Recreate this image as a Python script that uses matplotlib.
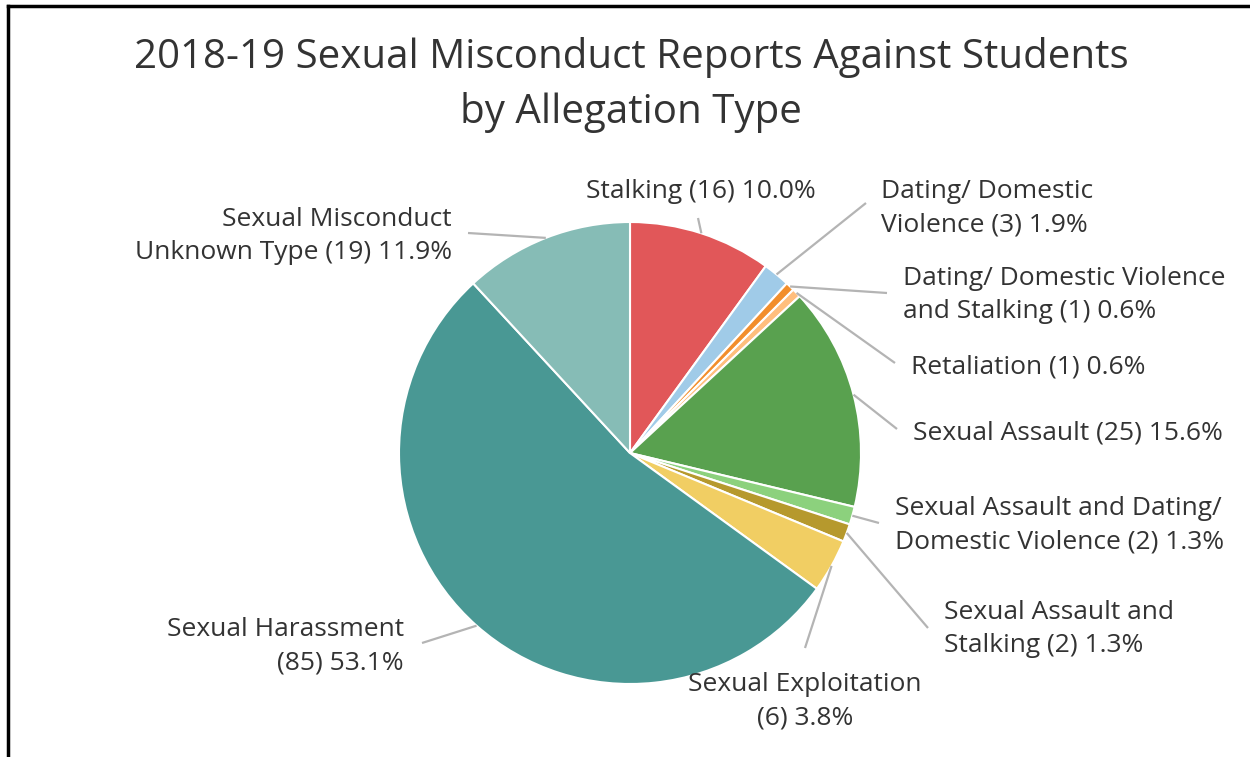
import numpy as np
import matplotlib.pyplot as plt

# allegation types, clockwise from 12 o'clock
categories = [
    "Stalking",
    "Dating/ Domestic\nViolence",
    "Dating/ Domestic Violence\nand Stalking",
    "Retaliation",
    "Sexual Assault",
    "Sexual Assault and Dating/\nDomestic Violence",
    "Sexual Assault and\nStalking",
    "Sexual Exploitation\n",
    "Sexual Harassment\n",
    "Sexual Misconduct\nUnknown Type",
]
counts = [16, 3, 1, 1, 25, 2, 2, 6, 85, 19]
colors = ["#e15759", "#a0cbe8", "#f28e2b", "#ffbe7d", "#59a14f",
          "#8cd17d", "#b6992d", "#f1ce63", "#499894", "#86bcb6"]

# label anchor (pixels from top-left) and alignment
label_pos = [(701, 191), (881, 208), (903, 295), (911, 367), (913, 433),
             (895, 525), (944, 629), (805, 701), (404, 646), (452, 236)]
label_ha = ["center", "left", "left", "left", "left",
            "left", "left", "center", "right", "right"]
line_end = [(698, 218), (866, 203), (887, 293), (895, 363), (897, 429),
            (879, 523), (928, 628), (805, 648), (422, 643), (468, 233)]

W, H = 1250, 757
cx, cy, r = 630, 453, 231
text_col = "#333333"
font = ["Open Sans", "DejaVu Sans"]


def py(y):
    # pixel row -> data y
    return H - y


fig = plt.figure(figsize=(12.5, 7.57), dpi=100)
ax = fig.add_axes([0, 0, 1, 1])

ax.pie(counts, colors=colors, startangle=90, counterclock=False,
       center=(cx, py(cy)), radius=r,
       wedgeprops=dict(edgecolor="white", linewidth=1.5))

ax.set_xlim(0, W)
ax.set_ylim(0, H)
ax.set_aspect("auto")
ax.axis("off")

total = sum(counts)
cum = np.cumsum([0] + counts)
for i, name in enumerate(categories):
    mid = (cum[i] + counts[i] / 2) / total * 2 * np.pi
    x0 = cx + r * np.sin(mid)
    y0 = cy - r * np.cos(mid)
    x1, y1 = line_end[i]
    ax.plot([x0, x1], [py(y0), py(y1)], color="#b4b4b4", lw=1.6,
            solid_capstyle="butt", zorder=1)
    # round half up like the source (1.25 -> 1.3)
    pct = np.floor(counts[i] / total * 1000 + 0.5) / 10
    tail = "(%d) %.1f%%" % (counts[i], pct)
    if name.endswith("\n"):
        txt = name + tail
    else:
        txt = name + " " + tail
    tx, ty = label_pos[i]
    ax.text(tx, py(ty), txt, ha=label_ha[i], va="center",
            multialignment=label_ha[i], fontsize=19, color=text_col,
            family=font, linespacing=1.45)

ax.text(631, py(85), "2018-19 Sexual Misconduct Reports Against Students\nby Allegation Type",
        ha="center", va="center", multialignment="center", fontsize=29,
        color=text_col, family=font, linespacing=1.45)

# partial frame: top and left edges
ax.plot([8, W], [py(6), py(6)], color="black", lw=2.5, clip_on=False)
ax.plot([8, 8], [py(6), 0], color="black", lw=2.5, clip_on=False)

fig.savefig("out.png", dpi=100, facecolor="white")
